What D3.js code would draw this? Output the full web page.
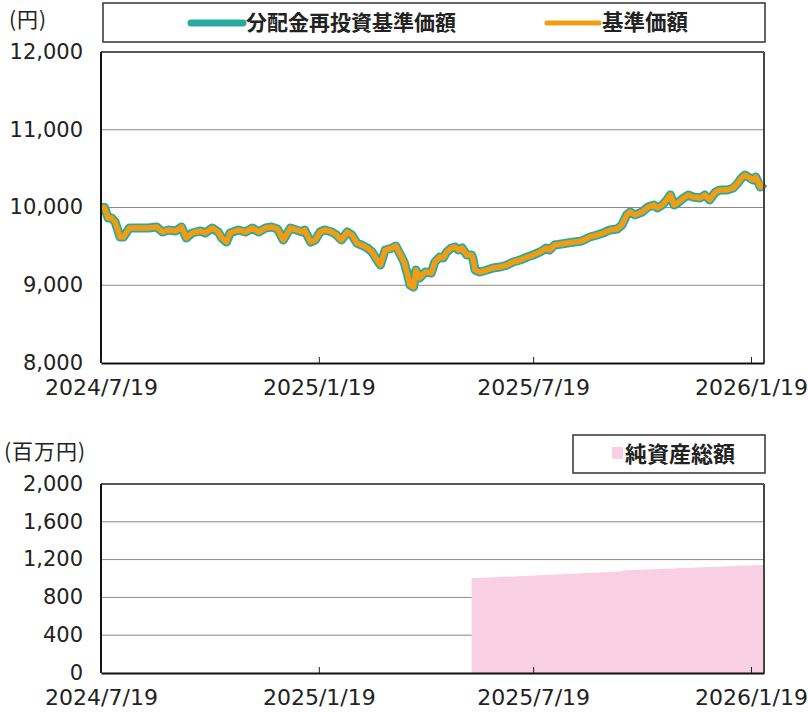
<!DOCTYPE html>
<html lang="ja">
<head>
<meta charset="UTF-8">
<title>基準価額・純資産総額</title>
<style>
    body { margin: 0; background: #fff; }
    text { font-family: "Noto Sans CJK JP", "Noto Sans", sans-serif; fill: #222; }
    .num { font-family: "DejaVu Sans", "Noto Sans", sans-serif; }
    .grid { stroke: #8a8a8a; stroke-width: 1; }
</style>
<script src="https://d3js.org/d3.v7.min.js"></script>
</head>
<body>
<svg id="chart" width="808" height="713"></svg>
<script>
// 日付（基準価額）
const navDates = [
    "2024-07-19","2024-07-22","2024-07-25","2024-07-28","2024-07-31","2024-08-04","2024-08-07","2024-08-12",
    "2024-08-17","2024-08-28","2024-09-04","2024-09-09","2024-09-14","2024-09-20","2024-09-25","2024-09-29",
    "2024-10-04","2024-10-11","2024-10-15","2024-10-21","2024-10-26","2024-10-29","2024-11-02","2024-11-05",
    "2024-11-12","2024-11-18","2024-11-24","2024-11-29","2024-12-05","2024-12-10","2024-12-15","2024-12-20",
    "2024-12-26","2024-12-31","2025-01-05","2025-01-07","2025-01-12","2025-01-16","2025-01-20","2025-01-24",
    "2025-01-30","2025-02-03","2025-02-07","2025-02-12","2025-02-16","2025-02-20","2025-02-24","2025-03-01",
    "2025-03-05","2025-03-08","2025-03-12","2025-03-16","2025-03-22","2025-03-25","2025-03-29","2025-04-01",
    "2025-04-04","2025-04-06","2025-04-09","2025-04-11","2025-04-14","2025-04-19","2025-04-24","2025-04-27",
    "2025-05-01","2025-05-04","2025-05-07","2025-05-11","2025-05-14","2025-05-17","2025-05-20","2025-05-24",
    "2025-05-28","2025-05-29","2025-05-31","2025-06-04","2025-06-10","2025-06-15","2025-06-21","2025-06-27",
    "2025-07-02","2025-07-08","2025-07-14","2025-07-19","2025-07-25","2025-07-30","2025-08-02","2025-08-06",
    "2025-08-12","2025-08-17","2025-08-23","2025-08-29","2025-09-05","2025-09-11","2025-09-16","2025-09-22",
    "2025-09-28","2025-10-02","2025-10-06","2025-10-09","2025-10-13","2025-10-19","2025-10-24","2025-10-29",
    "2025-11-01","2025-11-05","2025-11-09","2025-11-12","2025-11-15","2025-11-18","2025-11-23","2025-11-27",
    "2025-12-01","2025-12-07","2025-12-11","2025-12-15","2025-12-20","2025-12-24","2025-12-30","2026-01-04",
    "2026-01-08","2026-01-11","2026-01-14","2026-01-18","2026-01-21","2026-01-23","2026-01-27","2026-01-30"
];

// 分配金再投資基準価額（円）
const reinvested = [
    10000,10000,9865,9865,9813,9621,9621,9736,
    9736,9736,9749,9685,9711,9698,9749,9608,
    9672,9698,9672,9736,9685,9608,9556,9672,
    9711,9685,9736,9685,9736,9749,9724,9582,
    9736,9711,9685,9711,9556,9582,9685,9711,
    9685,9646,9582,9685,9646,9543,9518,9479,
    9428,9351,9260,9453,9479,9505,9389,9299,
    9132,9003,8977,9196,9093,9170,9158,9299,
    9363,9351,9428,9479,9492,9453,9479,9389,
    9389,9351,9196,9170,9196,9222,9235,9260,
    9299,9325,9363,9389,9428,9479,9453,9518,
    9531,9543,9556,9569,9621,9646,9672,9711,
    9724,9775,9904,9942,9904,9942,10006,10032,
    9994,10032,10097,10161,10032,10058,10122,10161,
    10135,10122,10161,10097,10199,10225,10225,10251,
    10315,10379,10418,10379,10354,10392,10264,10315
];

// 基準価額（円） 分配なしのため同値
const basePrice = reinvested.slice();

// 純資産総額（百万円）
const assetDates = ["2025-05-28","2025-07-25","2025-09-30","2025-10-06","2025-11-14","2026-01-10","2026-01-30"];
const netAssets  = [1002, 1034, 1074, 1086, 1106, 1135, 1143];

const xTickDates = ["2024-07-19","2025-01-19","2025-07-19","2026-01-19"];
const navTicks = [8000, 9000, 10000, 11000, 12000];
const assetTicks = [0, 400, 800, 1200, 1600, 2000];

const parse = d3.timeParse("%Y-%m-%d");
const fmtDate = d3.timeFormat("%Y/%-m/%-d");
const fmtNum = d3.format(",");

const svg = d3.select("#chart");
const left = 101, right = 764;

const x = d3.scaleTime()
    .domain([parse("2024-07-19"), parse("2026-01-30")])
    .range([left, right]);

// ---------- 上段：基準価額 ----------
const y1 = d3.scaleLinear().domain([8000, 12000]).range([363, 52]);

const topG = svg.append("g");

topG.selectAll("line.grid")
    .data(navTicks.filter(v => v > 8000 && v < 12000))
    .enter().append("line")
    .attr("class", "grid")
    .attr("x1", left).attr("x2", right)
    .attr("y1", d => y1(d)).attr("y2", d => y1(d));

topG.append("g")
    .attr("transform", `translate(${left - 15},0)`)
    .call(d3.axisLeft(y1).tickValues(navTicks).tickFormat(fmtNum).tickSize(0))
    .call(g => g.select(".domain").remove())
    .call(g => g.selectAll("text").attr("class", "num").attr("font-size", 21).attr("dy", "0.3em"));

topG.append("text").attr("x", 9).attr("y", 27).attr("font-size", 21).attr("letter-spacing", 1).text("(円)");

const navPts = navDates.map((d, i) => ({ date: parse(d), a: reinvested[i], b: basePrice[i] }));

topG.append("path")
    .datum(navPts)
    .attr("fill", "none")
    .attr("stroke", "#2aa9a0")
    .attr("stroke-width", 9)
    .attr("stroke-linejoin", "round")
    .attr("d", d3.line().x(d => x(d.date)).y(d => y1(d.a)));

topG.append("path")
    .datum(navPts)
    .attr("fill", "none")
    .attr("stroke", "#f29c14")
    .attr("stroke-width", 5.5)
    .attr("stroke-linejoin", "round")
    .attr("d", d3.line().x(d => x(d.date)).y(d => y1(d.b)));

drawFrame(topG, 52, 363);

// 凡例
const lg = svg.append("g");
lg.append("rect").attr("x", 103).attr("y", 3).attr("width", 662).attr("height", 39)
    .attr("fill", "#fff").attr("stroke", "#333").attr("stroke-width", 1.5);
lg.append("line").attr("x1", 191).attr("x2", 243).attr("y1", 23).attr("y2", 23)
    .attr("stroke", "#2aa9a0").attr("stroke-width", 7).attr("stroke-linecap", "round");
lg.append("text").attr("x", 246).attr("y", 30).attr("font-size", 21).attr("font-weight", "bold")
    .text("分配金再投資基準価額");
lg.append("line").attr("x1", 547).attr("x2", 599).attr("y1", 23).attr("y2", 23)
    .attr("stroke", "#f29c14").attr("stroke-width", 5).attr("stroke-linecap", "round");
lg.append("text").attr("x", 602).attr("y", 30).attr("font-size", 21.5).attr("font-weight", "bold")
    .text("基準価額");

// ---------- 下段：純資産総額 ----------
const y2 = d3.scaleLinear().domain([0, 2000]).range([673, 484]);

const botG = svg.append("g");

botG.selectAll("line.grid")
    .data(assetTicks.filter(v => v > 0 && v < 2000))
    .enter().append("line")
    .attr("class", "grid")
    .attr("x1", left).attr("x2", right)
    .attr("y1", d => y2(d)).attr("y2", d => y2(d));

const assetPts = assetDates.map((d, i) => ({ date: parse(d), v: netAssets[i] }));

botG.append("path")
    .datum(assetPts)
    .attr("fill", "#f8cfe3")
    .attr("d", d3.area().x(d => x(d.date)).y0(y2(0)).y1(d => y2(d.v)));

botG.append("g")
    .attr("transform", `translate(${left - 15},0)`)
    .call(d3.axisLeft(y2).tickValues(assetTicks).tickFormat(fmtNum).tickSize(0))
    .call(g => g.select(".domain").remove())
    .call(g => g.selectAll("text").attr("class", "num").attr("font-size", 21).attr("dy", "0.3em"));

botG.append("text").attr("x", 4).attr("y", 459).attr("font-size", 21).attr("letter-spacing", 1).text("(百万円)");

drawFrame(botG, 484, 673);

const lg2 = svg.append("g");
lg2.append("rect").attr("x", 573).attr("y", 435).attr("width", 192).attr("height", 38)
    .attr("fill", "#fff").attr("stroke", "#333").attr("stroke-width", 1.5);
lg2.append("rect").attr("x", 612).attr("y", 447).attr("width", 11).attr("height", 12)
    .attr("fill", "#f8cfe3");
lg2.append("text").attr("x", 625).attr("y", 462).attr("font-size", 22).attr("font-weight", "bold")
    .text("純資産総額");

function drawFrame(g, yTop, yBottom) {
    g.append("line").attr("x1", left).attr("x2", right).attr("y1", yTop).attr("y2", yTop)
        .attr("stroke", "#222").attr("stroke-width", 1.5);
    g.append("line").attr("x1", right).attr("x2", right).attr("y1", yTop).attr("y2", yBottom)
        .attr("stroke", "#444").attr("stroke-width", 2);
    g.append("line").attr("x1", left).attr("x2", left).attr("y1", yTop).attr("y2", yBottom)
        .attr("stroke", "#111").attr("stroke-width", 2);

    const ax = g.append("g")
        .attr("transform", `translate(0,${yBottom})`)
        .call(d3.axisBottom(x).tickValues(xTickDates.map(parse)).tickFormat(fmtDate).tickSizeInner(-6).tickSizeOuter(0));
    ax.select(".domain").attr("stroke", "#111").attr("stroke-width", 2);
    ax.selectAll(".tick line").attr("stroke", "#222");
    ax.selectAll("text").attr("class", "num").attr("font-size", 22).attr("y", 16).attr("fill", "#222");
}
</script>
</body>
</html>
